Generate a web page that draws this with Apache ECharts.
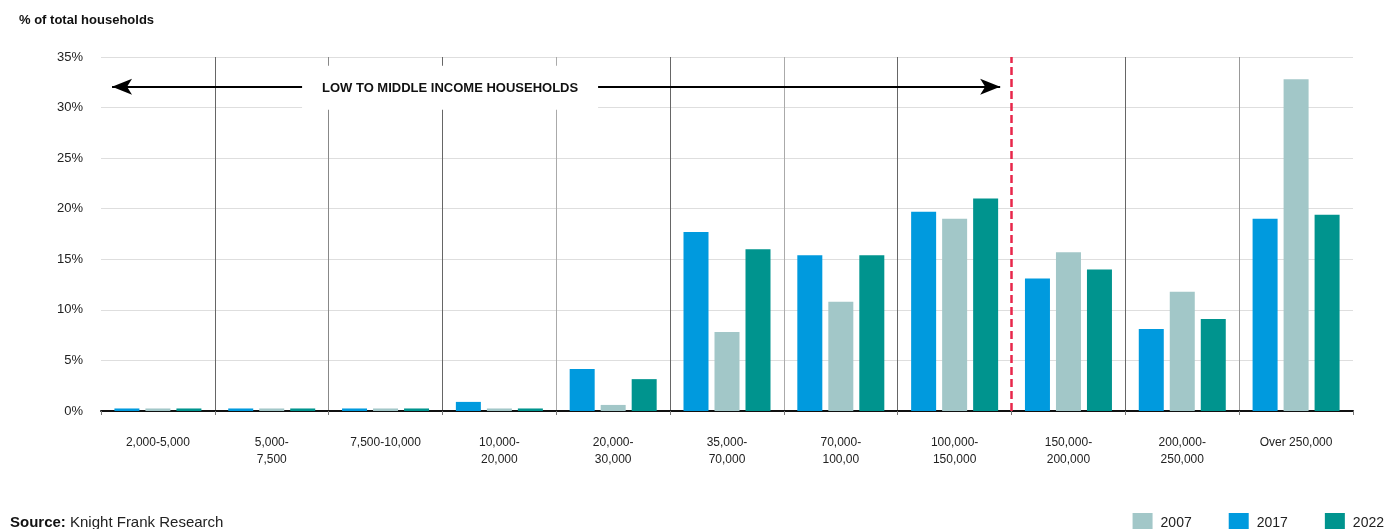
<!DOCTYPE html>
<html>
<head>
<meta charset="utf-8">
<title>Household income distribution</title>
<script src="https://cdn.jsdelivr.net/npm/echarts@6/dist/echarts.min.js"></script>
<style>
  html, body { margin: 0; padding: 0; background: #fff; }
  #chart { width: 1386px; height: 529px; }
</style>
</head>
<body>
<div id="chart"></div>
<script>
// Income bands (x axis categories)
const categories = [
  '2,000-5,000', '5,000-\n7,500', '7,500-10,000', '10,000-\n20,000', '20,000-\n30,000',
  '35,000-\n70,000', '70,000-\n100,00', '100,000-\n150,000', '150,000-\n200,000',
  '200,000-\n250,000', 'Over 250,000'
];

// Share of total households, %
const share2017 = [0.25, 0.25, 0.25, 0.9, 4.15, 17.7, 15.4, 19.7, 13.1, 8.1, 19.0];
const share2007 = [0.25, 0.25, 0.25, 0.25, 0.6, 7.8, 10.8, 19.0, 15.7, 11.8, 32.8];
const share2022 = [0.25, 0.25, 0.25, 0.25, 3.15, 16.0, 15.4, 21.0, 14.0, 9.1, 19.4];

const legendOrder = ['2007', '2017', '2022'];
const yTicks = { min: 0, max: 35, interval: 5 };

// Band boundary separating the low-to-middle income group
const incomeThreshold = 8;
const annotationText = 'LOW TO MIDDLE INCOME HOUSEHOLDS';

const C_BLUE = '#009ADE';
const C_LIGHT = '#A2C7C8';
const C_TEAL = '#00948E';
const FONT = '"Liberation Sans", Arial, Helvetica, sans-serif';

const chart = echarts.init(document.getElementById('chart'), null, { renderer: 'canvas' });

chart.setOption({
  animation: false,
  textStyle: { fontFamily: FONT, color: '#222' },
  title: [
    {
      text: '% of total households',
      left: 14, top: 9,
      textStyle: { fontFamily: FONT, fontSize: 13, fontWeight: 'bold', color: '#111' }
    },
    {
      text: '{b|Source:} Knight Frank Research',
      left: 5, top: 510,
      textStyle: {
        fontFamily: FONT, fontSize: 15, fontWeight: 'normal', color: '#222',
        rich: { b: { fontFamily: FONT, fontSize: 15, fontWeight: 'bold', color: '#111' } }
      }
    }
  ],
  legend: {
    data: legendOrder,
    right: -3, top: 508,
    icon: 'rect',
    itemWidth: 20, itemHeight: 20,
    itemGap: 37,
    textStyle: { fontFamily: FONT, fontSize: 14, color: '#222', padding: [0, 0, 0, 3] }
  },
  grid: { left: 101, right: 33, top: 57, bottom: 118, containLabel: false },
  xAxis: [
    {
      type: 'category',
      data: categories,
      boundaryGap: true,
      axisLine: { show: true, lineStyle: { color: '#111', width: 2 } },
      axisTick: { show: true, length: 4, lineStyle: { color: '#777' } },
      axisLabel: {
        fontFamily: FONT, fontSize: 12, color: '#222',
        margin: 23, lineHeight: 17, interval: 0
      },
      splitLine: {
        show: true,
        showMinLine: false,
        showMaxLine: false,
        lineStyle: {
          width: 1,
          color: ['#666', '#888', '#666', '#aaa', '#666', '#aaa', '#666',
                  'rgba(0,0,0,0)', '#666', '#999']
        }
      }
    },
    {
      // Continuous helper axis over the same bands for the annotations
      type: 'value', min: 0, max: categories.length, show: false
    }
  ],
  yAxis: {
    type: 'value',
    min: yTicks.min, max: yTicks.max, interval: yTicks.interval,
    axisLine: { show: false },
    axisTick: { show: false },
    axisLabel: { fontFamily: FONT, fontSize: 13, color: '#222', margin: 18, formatter: '{value}%' },
    splitLine: { lineStyle: { color: '#dedede', width: 1 } }
  },
  series: [
    {
      name: '2017', type: 'bar', data: share2017,
      barWidth: 25, barGap: '24%',
      itemStyle: { color: C_BLUE }, z: 2
    },
    {
      name: '2007', type: 'bar', data: share2007,
      barWidth: 25, barGap: '24%',
      itemStyle: { color: C_LIGHT }, z: 2
    },
    {
      name: '2022', type: 'bar', data: share2022,
      barWidth: 25, barGap: '24%',
      itemStyle: { color: C_TEAL }, z: 2
    },
    {
      // Threshold line (no end symbols)
      type: 'line', xAxisIndex: 1, yAxisIndex: 0, data: [], silent: true, z: 3,
      markLine: {
        silent: true,
        animation: false,
        symbol: ['none', 'none'],
        label: { show: false },
        lineStyle: { color: '#E8274B', type: [8, 4], width: 2.5 },
        data: [ { xAxis: incomeThreshold } ]
      }
    },
    {
      // Double-headed arrow spanning the low-to-middle income bands
      type: 'line', xAxisIndex: 1, yAxisIndex: 0, data: [], silent: true, z: 3,
      markLine: {
        silent: true,
        animation: false,
        symbol: ['arrow', 'arrow'],
        symbolSize: [12, 20],
        label: { show: false },
        lineStyle: { color: '#000', type: 'solid', width: 2 },
        data: [
          [ { coord: [0.097, 32.05] }, { coord: [7.9, 32.05] } ]
        ]
      }
    },
    {
      // Label box on the arrow
      type: 'line', xAxisIndex: 1, yAxisIndex: 0, data: [], silent: true, z: 4,
      markPoint: {
        silent: true,
        animation: false,
        data: [
          {
            coord: [3.067, 31.95],
            symbol: 'rect',
            symbolSize: [296, 44],
            itemStyle: { color: '#fff' },
            label: {
              show: true, position: 'inside',
              formatter: annotationText,
              fontFamily: FONT, fontSize: 13, fontWeight: 'bold', color: '#111',
              offset: [0, 1]
            }
          }
        ]
      }
    }
  ]
});
</script>
</body>
</html>
